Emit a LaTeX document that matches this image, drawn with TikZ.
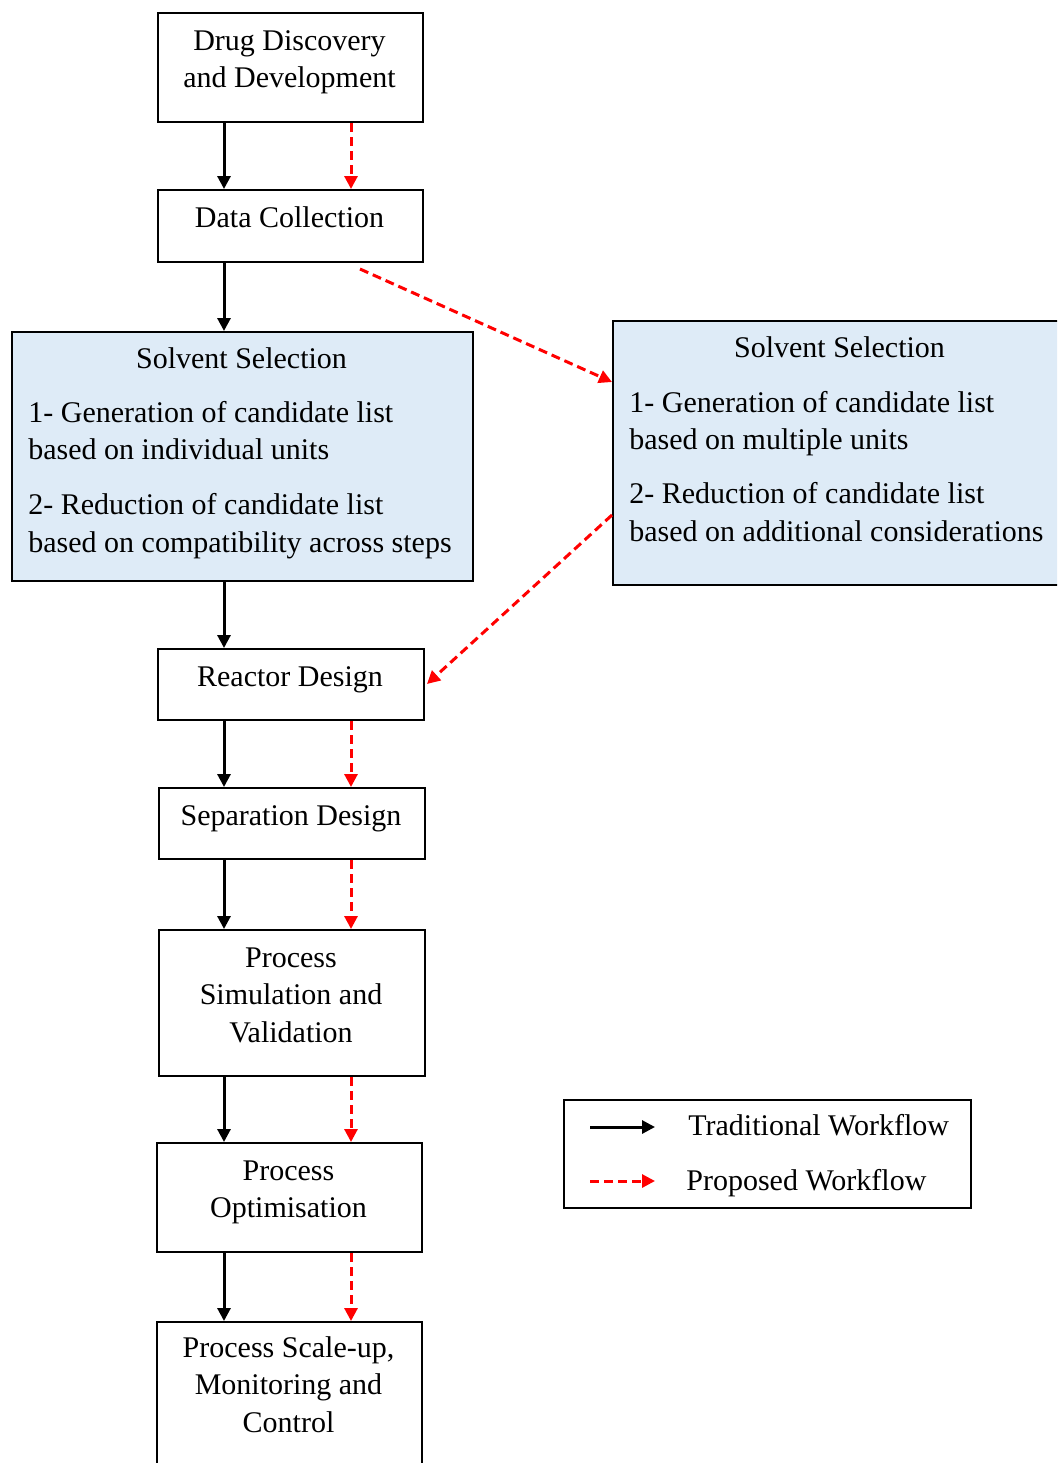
\documentclass[tikz,border=0pt]{standalone}
\usepackage{fontspec}
\setmainfont{Liberation Serif}
\usetikzlibrary{arrows.meta,calc}
\definecolor{boxblue}{RGB}{222,235,247}
\definecolor{arrred}{RGB}{255,0,0}
\begin{document}
\begin{tikzpicture}[x=0.5pt,y=-0.5pt,
  box/.style={draw=black,line width=1pt,fill=white,rectangle,inner sep=0pt,anchor=north west},
  bluebox/.style={box,fill=boxblue},
  txt/.style={font=\fontsize{15pt}{18.75pt}\selectfont,inner sep=0pt,anchor=base,align=center},
  ltxt/.style={txt,anchor=base west,align=left},
  trad/.style={draw=black,line width=1.5pt,-{Triangle[length=6.5pt,width=6.5pt]}},
  prop/.style={draw=arrred,line width=1.5pt,dash pattern=on 4.5pt off 2.5pt,-{Triangle[length=6.5pt,width=6.5pt,fill=arrred]}}]
\useasboundingbox (0,0) rectangle (1057,1463);
\clip (0,0) rectangle (1057,1463);
\fill[white] (0,0) rectangle (1057,1463);

% boxes
\node[box,minimum width=132.5pt,minimum height=54.5pt] (dd) at (157,12) {};
\node[box,minimum width=132.5pt,minimum height=36pt] (dc) at (157,189) {};
\node[bluebox,minimum width=230.5pt,minimum height=124.5pt] (ssl) at (11,331) {};
\node[bluebox,minimum width=229pt,minimum height=132pt] (ssr) at (612,320) {};
\node[box,minimum width=133pt,minimum height=35.5pt] (rd) at (157,648) {};
\node[box,minimum width=133pt,minimum height=35.5pt] (sd) at (158,787) {};
\node[box,minimum width=133pt,minimum height=73pt] (psv) at (158,929) {};
\node[box,minimum width=132.5pt,minimum height=54.5pt] (po) at (156,1142) {};
\node[box,minimum width=132.5pt,minimum height=80pt] (psu) at (156,1321) {};
\node[box,minimum width=203.5pt,minimum height=54pt] (leg) at (563,1099) {};

% texts (anchor base = baseline of the last line)
\node[txt] (dd-t) at (289.5,87.5) {Drug Discovery\\and Development};
\node[txt] (dc-t) at (289.5,227) {Data Collection};
\node[txt] (ssl-title) at (241.5,368) {Solvent Selection};
\node[ltxt] (ssl-body) at (28,552) {1- Generation of candidate list\\based on individual units\\[8.75pt]2- Reduction of candidate list\\based on compatibility across steps};
\node[txt] (ssr-title) at (839.5,357) {Solvent Selection};
\node[ltxt] (ssr-body) at (629,541) {1- Generation of candidate list\\based on multiple units\\[8.25pt]2- Reduction of candidate list\\based on additional considerations};
\node[txt] (rd-t) at (290,686) {Reactor Design};
\node[txt] (sd-t) at (291,825) {Separation Design};
\node[txt] (psv-t) at (291,1042) {Process\\Simulation and\\Validation};
\node[txt] (po-t) at (288.5,1217.5) {Process\\Optimisation};
\node[txt] (psu-t) at (288.5,1432) {Process Scale-up,\\Monitoring and\\Control};
\node[ltxt] (leg-t1) at (688,1135) {Traditional Workflow};
\node[ltxt] (leg-t2) at (686,1190) {Proposed Workflow};

% connector columns
\coordinate (bx) at (224,0);
\coordinate (rx) at (351,0);

% traditional workflow
\draw[trad] (dd.south -| bx) -- (dc.north -| bx);
\draw[trad] (dc.south -| bx) -- (ssl.north -| bx);
\draw[trad] (ssl.south -| bx) -- (rd.north -| bx);
\draw[trad] (rd.south -| bx) -- (sd.north -| bx);
\draw[trad] (sd.south -| bx) -- (psv.north -| bx);
\draw[trad] (psv.south -| bx) -- (po.north -| bx);
\draw[trad] (po.south -| bx) -- (psu.north -| bx);

% proposed workflow
\draw[prop] (dd.south -| rx) -- (dc.north -| rx);
\draw[prop] ($(dc.south west)+(203,6)$) -- ($(ssr.north west)+(0,62)$);
\draw[prop] ($(ssr.north west)+(0,195)$) -- ($(rd.north east)+(2,36)$);
\draw[prop] (rd.south -| rx) -- (sd.north -| rx);
\draw[prop] (sd.south -| rx) -- (psv.north -| rx);
\draw[prop] (psv.south -| rx) -- (po.north -| rx);
\draw[prop] (po.south -| rx) -- (psu.north -| rx);

% legend
\coordinate (l1a) at ($(leg.north west)+(27,28)$);
\coordinate (l1b) at ($(leg.north west)+(92,28)$);
\coordinate (l2a) at ($(leg.north west)+(27,82)$);
\coordinate (l2b) at ($(leg.north west)+(92,82)$);
\draw[trad] (l1a) -- (l1b);
\draw[prop] (l2a) -- (l2b);
\end{tikzpicture}
\end{document}
